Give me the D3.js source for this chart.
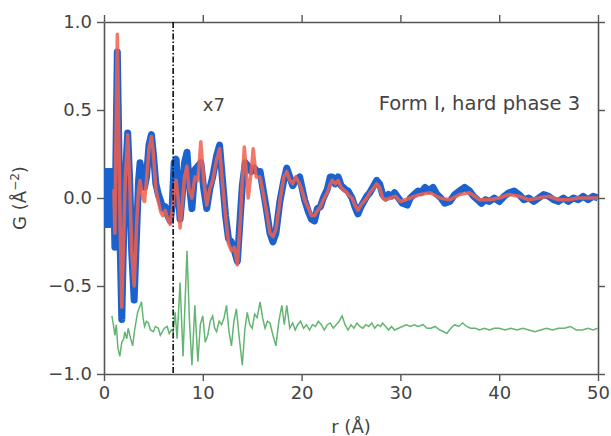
<!DOCTYPE html>
<html>
<head>
<meta charset="utf-8">
<script src="https://cdn.jsdelivr.net/npm/d3@7"></script>
<style>
	body { margin: 0; background: #fff; }
	text { font-family: "DejaVu Sans", sans-serif; fill: #444; }
</style>
</head>
<body>
<div id="chart"></div>
<script>
// observed G(r), blue
var observed = [
	[0.0,0.15],[0.1,-0.15],[0.2,0.15],[0.3,-0.15],[0.4,0.15],[0.5,-0.15],[0.6,0.15],[0.7,-0.15],[0.8,0.15],[0.9,-0.12],
	[1.0,0.05],[1.1,-0.28],[1.2,0.2],[1.35,0.83],[1.5,0.3],[1.65,-0.3],[1.8,-0.69],[1.95,-0.3],[2.15,0.1],[2.4,0.37],
	[2.6,0.1],[2.8,-0.3],[3.05,-0.58],[3.3,-0.2],[3.5,0.1],[3.65,0.2],[3.9,0.1],[4.1,0.06],[4.3,0.12],[4.55,0.3],
	[4.8,0.36],[5.0,0.25],[5.25,0.08],[5.5,0.02],[5.75,-0.02],[5.95,-0.06],[6.2,-0.05],[6.45,-0.1],[6.7,-0.13],[6.9,-0.05],
	[7.1,0.2],[7.3,0.22],[7.5,0.05],[7.7,-0.12],[7.9,0.0],[8.15,0.2],[8.4,0.26],[8.6,0.1],[8.9,-0.06],[9.2,0.16],
	[9.5,0.18],[9.8,0.2],[10.1,0.05],[10.4,-0.06],[10.7,0.05],[11.0,0.12],[11.4,0.24],[11.7,0.3],[12.0,0.1],[12.3,-0.1],
	[12.6,-0.23],[12.9,-0.25],[13.2,-0.3],[13.5,-0.36],[13.8,-0.1],[14.0,0.07],[14.3,0.2],[14.6,0.18],[14.9,0.15],[15.2,0.17],
	[15.5,0.15],[15.8,0.15],[16.1,0.05],[16.4,-0.05],[16.8,-0.2],[17.1,-0.25],[17.4,-0.2],[17.8,-0.02],[18.2,0.1],[18.5,0.17],
	[18.8,0.12],[19.1,0.07],[19.4,0.1],[19.8,0.12],[20.0,0.07],[20.3,-0.01],[20.7,-0.08],[21.0,-0.12],[21.3,-0.13],[21.6,-0.06],
	[21.9,-0.05],[22.2,0.0],[22.6,0.05],[22.9,0.12],[23.1,0.12],[23.4,0.08],[23.7,0.12],[24.0,0.07],[24.4,0.05],[24.7,0.04],
	[25.1,0.0],[25.4,-0.05],[25.7,-0.09],[26.0,-0.05],[26.3,-0.02],[26.6,0.01],[26.9,0.03],[27.2,0.06],[27.6,0.1],[27.9,0.08],
	[28.2,0.02],[28.5,0.0],[28.8,0.02],[29.1,0.01],[29.4,0.03],[29.8,0.0],[30.2,-0.03],[30.7,-0.04],[31.0,0.0],[31.4,0.02],
	[31.8,0.04],[32.1,0.03],[32.5,0.06],[32.9,0.04],[33.3,0.06],[33.7,0.02],[34.1,0.0],[34.5,-0.03],[35.0,-0.02],[35.5,0.02],
	[36.0,0.04],[36.5,0.06],[37.0,0.04],[37.4,0.01],[37.8,-0.01],[38.2,-0.03],[38.6,-0.01],[39.0,-0.02],[39.5,0.0],[40.0,-0.02],
	[40.5,0.01],[41.0,0.03],[41.5,0.04],[42.0,0.02],[42.5,-0.01],[43.0,0.0],[43.5,-0.02],[44.0,0.0],[44.5,0.02],[45.0,0.01],
	[45.5,-0.01],[46.0,-0.02],[46.5,0.0],[47.0,-0.02],[47.5,0.0],[48.0,-0.01],[48.5,0.01],[49.0,-0.01],[49.5,0.01],[50.0,0.0]
];

// fitted G(r), red
var fitted = [
	[1.0,0.05],[1.1,-0.2],[1.2,0.3],[1.35,0.93],[1.5,0.35],[1.65,-0.2],[1.8,-0.62],[1.95,-0.3],[2.15,0.1],[2.4,0.36],
	[2.6,0.1],[2.8,-0.3],[3.05,-0.5],[3.3,-0.15],[3.5,0.05],[3.65,0.1],[3.9,0.0],[4.1,-0.02],[4.3,0.1],[4.55,0.28],
	[4.8,0.35],[5.0,0.25],[5.25,0.05],[5.5,-0.02],[5.75,-0.08],[5.95,-0.1],[6.2,-0.07],[6.45,-0.12],[6.7,-0.15],[6.9,-0.08],
	[7.1,0.05],[7.3,0.1],[7.5,0.0],[7.7,-0.17],[7.9,-0.05],[8.15,0.12],[8.4,0.18],[8.6,0.05],[8.9,0.0],[9.2,0.12],
	[9.5,0.1],[9.8,0.32],[10.1,0.1],[10.4,-0.04],[10.7,0.05],[11.0,0.1],[11.4,0.22],[11.7,0.28],[12.0,0.08],[12.3,-0.1],
	[12.6,-0.26],[12.9,-0.3],[13.2,-0.28],[13.5,-0.38],[13.8,-0.12],[14.0,0.1],[14.2,0.29],[14.4,0.15],[14.6,0.0],[14.9,0.15],
	[15.1,0.28],[15.4,0.12],[15.8,0.12],[16.1,0.03],[16.4,-0.06],[16.8,-0.2],[17.1,-0.22],[17.4,-0.18],[17.8,-0.02],[18.2,0.12],
	[18.5,0.15],[18.8,0.1],[19.1,0.08],[19.4,0.12],[19.8,0.08],[20.0,0.05],[20.3,-0.01],[20.7,-0.06],[21.0,-0.1],[21.3,-0.1],
	[21.6,-0.07],[21.9,-0.05],[22.2,-0.01],[22.6,0.03],[22.9,0.08],[23.1,0.1],[23.4,0.08],[23.7,0.1],[24.0,0.06],[24.4,0.04],
	[24.7,0.02],[25.1,0.0],[25.4,-0.04],[25.7,-0.07],[26.0,-0.04],[26.3,-0.02],[26.6,0.0],[26.9,0.03],[27.2,0.05],[27.6,0.08],
	[27.9,0.06],[28.2,0.0],[28.5,-0.01],[29.0,0.0],[29.5,0.01],[30.0,-0.02],[31.0,0.0],[32.0,0.02],[33.0,0.03],[34.0,0.0],
	[35.0,-0.01],[36.0,0.02],[37.0,0.03],[38.0,-0.01],[39.0,-0.01],[40.0,0.0],[41.0,0.02],[42.0,0.01],[43.0,-0.01],[44.0,0.0],
	[45.0,0.01],[46.0,-0.01],[47.0,-0.01],[48.0,0.0],[49.0,0.0],[50.0,0.0]
];

// difference curve as drawn (offset below, x7 beyond the dashed line), green
var difference = [
	[0.8,-0.67],[0.95,-0.72],[1.1,-0.78],[1.25,-0.72],[1.4,-0.85],[1.6,-0.9],[1.8,-0.82],[2.0,-0.8],[2.1,-0.76],[2.3,-0.8],
	[2.45,-0.74],[2.7,-0.8],[2.9,-0.84],[3.1,-0.75],[3.4,-0.65],[3.6,-0.62],[3.8,-0.59],[3.95,-0.68],[4.1,-0.73],[4.3,-0.7],
	[4.5,-0.71],[4.7,-0.75],[5.0,-0.76],[5.2,-0.73],[5.5,-0.74],[5.7,-0.78],[5.9,-0.76],[6.1,-0.74],[6.4,-0.73],[6.6,-0.77],
	[6.8,-0.75],[7.0,-0.76],[7.2,-0.65],[7.4,-0.8],[7.7,-0.48],[8.0,-0.9],[8.2,-0.6],[8.4,-0.3],[8.65,-0.7],[8.9,-0.95],
	[9.2,-0.61],[9.5,-0.93],[9.75,-0.72],[10.0,-0.67],[10.25,-0.82],[10.5,-0.78],[10.75,-0.7],[11.0,-0.67],[11.2,-0.74],[11.4,-0.76],
	[11.65,-0.7],[11.9,-0.72],[12.15,-0.68],[12.4,-0.61],[12.65,-0.76],[12.9,-0.84],[13.15,-0.7],[13.4,-0.63],[13.7,-0.8],[14.0,-0.95],
	[14.25,-0.75],[14.5,-0.65],[14.75,-0.72],[15.0,-0.74],[15.25,-0.66],[15.5,-0.68],[15.8,-0.59],[16.05,-0.68],[16.3,-0.74],[16.55,-0.7],
	[16.8,-0.71],[17.1,-0.78],[17.4,-0.84],[17.7,-0.7],[18.0,-0.61],[18.25,-0.72],[18.5,-0.61],[18.8,-0.74],[19.1,-0.71],[19.35,-0.75],
	[19.6,-0.72],[19.9,-0.7],[20.2,-0.74],[20.5,-0.72],[20.8,-0.75],[21.1,-0.72],[21.4,-0.73],[21.7,-0.7],[22.0,-0.72],[22.3,-0.75],
	[22.6,-0.72],[22.9,-0.71],[23.2,-0.74],[23.5,-0.72],[23.8,-0.7],[24.1,-0.67],[24.4,-0.72],[24.7,-0.75],[25.0,-0.72],[25.3,-0.74],
	[25.6,-0.71],[25.9,-0.73],[26.2,-0.74],[26.5,-0.72],[26.8,-0.73],[27.1,-0.71],[27.4,-0.74],[27.7,-0.72],[28.0,-0.73],[28.2,-0.71],
	[28.5,-0.73],[28.8,-0.75],[29.1,-0.73],[29.4,-0.75],[29.8,-0.74],[30.2,-0.73],[30.6,-0.72],[31.0,-0.73],[31.4,-0.72],[31.8,-0.73],
	[32.3,-0.72],[32.7,-0.74],[33.1,-0.74],[33.5,-0.73],[34.0,-0.75],[34.4,-0.76],[34.7,-0.77],[35.1,-0.74],[35.5,-0.72],[35.9,-0.73],
	[36.3,-0.71],[36.7,-0.73],[37.1,-0.74],[37.6,-0.74],[38.0,-0.75],[38.5,-0.74],[39.0,-0.75],[39.5,-0.74],[40.0,-0.74],[40.6,-0.75],
	[41.2,-0.74],[41.8,-0.75],[42.4,-0.74],[43.0,-0.75],[43.6,-0.76],[44.2,-0.75],[44.8,-0.74],[45.4,-0.75],[46.0,-0.74],[46.6,-0.74],
	[47.2,-0.73],[47.8,-0.75],[48.4,-0.75],[49.0,-0.74],[49.5,-0.75],[50.0,-0.74]
];

var xTicks = [0, 10, 20, 30, 40, 50];
var yTicks = [-1.0, -0.5, 0.0, 0.5, 1.0];
var scaleCut = 7; // r where the difference curve is magnified
var scaleLabel = 'x7';
var title = 'Form I, hard phase 3';

var params = {
	width: 611,
	height: 436,
	margin: {top: 22, right: 13, bottom: 62, left: 104},
	tickLen: 7,
	axisColor: '#555'
};
params.plotW = params.width - params.margin.left - params.margin.right;
params.plotH = params.height - params.margin.top - params.margin.bottom;

var svg = d3.select('#chart').append('svg')
	.attr('width', params.width)
	.attr('height', params.height);

var g = svg.append('g')
	.attr('transform', 'translate(' + params.margin.left + ',' + params.margin.top + ')');

var x = d3.scaleLinear().domain([0, 50]).range([0, params.plotW]);
var y = d3.scaleLinear().domain([-1, 1]).range([params.plotH, 0]);

var fmt = function(d){ return d3.format('.1f')(d).replace('-', '\u2212'); };

// axes on all four sides, ticks pointing out
function styleAxis(sel){
	sel.selectAll('.domain').attr('stroke', params.axisColor).attr('stroke-width', 1.6);
	sel.selectAll('.tick line').attr('stroke', params.axisColor).attr('stroke-width', 1.4);
	sel.selectAll('.tick text').style('font-size', '18px').attr('fill', '#444');
}
g.append('g').attr('transform', 'translate(0,' + params.plotH + ')')
	.call(d3.axisBottom(x).tickValues(xTicks).tickSize(params.tickLen).tickSizeOuter(0).tickPadding(5).tickFormat(d3.format('d')))
	.call(styleAxis);
g.append('g')
	.call(d3.axisLeft(y).tickValues(yTicks).tickSize(params.tickLen).tickSizeOuter(0).tickPadding(5).tickFormat(fmt))
	.call(styleAxis);
g.append('g')
	.call(d3.axisTop(x).tickValues(xTicks).tickSize(params.tickLen).tickSizeOuter(0).tickFormat(''))
	.call(styleAxis);
g.append('g').attr('transform', 'translate(' + params.plotW + ',0)')
	.call(d3.axisRight(y).tickValues(yTicks).tickSize(params.tickLen).tickSizeOuter(0).tickFormat(''))
	.call(styleAxis);

// curves
var line = d3.line()
	.x(function(d){ return x(d[0]); })
	.y(function(d){ return y(d[1]); });

g.append('clipPath').attr('id', 'plotClip').append('rect')
	.attr('width', params.plotW).attr('height', params.plotH);

var curves = g.append('g').attr('clip-path', 'url(#plotClip)');
curves.append('path').datum(observed)
	.attr('d', line).attr('fill', 'none')
	.attr('stroke', '#1c62cf').attr('stroke-width', 7).attr('stroke-linejoin', 'round');
curves.append('path').datum(fitted)
	.attr('d', line).attr('fill', 'none')
	.attr('stroke', '#f2604e').attr('stroke-opacity', 0.85).attr('stroke-width', 3.5).attr('stroke-linejoin', 'round');
curves.append('path').datum(difference)
	.attr('d', line).attr('fill', 'none')
	.attr('stroke', '#63b571').attr('stroke-width', 1.5);

// dash-dot marker where the x7 magnification begins
g.append('line')
	.attr('x1', x(scaleCut)).attr('x2', x(scaleCut))
	.attr('y1', 0).attr('y2', params.plotH)
	.attr('stroke', '#111').attr('stroke-width', 1.6)
	.attr('stroke-dasharray', '6,2,1.5,2');

// annotations
g.append('text').attr('x', x(10)).attr('y', 89)
	.style('font-size', '18px').attr('fill', '#333').text(scaleLabel);
g.append('text').attr('x', x(27.8)).attr('y', 88)
	.style('font-size', '19.5px').attr('fill', '#333').text(title);

// axis labels
svg.append('text')
	.attr('x', params.margin.left + x(25)).attr('y', 433)
	.attr('text-anchor', 'middle').style('font-size', '18px')
	.text('r (\u00c5)');

var yl = svg.append('text')
	.attr('transform', 'translate(26,' + (params.margin.top + y(0)) + ') rotate(-90)')
	.attr('text-anchor', 'middle').style('font-size', '18px');
yl.append('tspan').text('G (\u00c5');
yl.append('tspan').attr('dy', -7).style('font-size', '12px').text('\u22122');
yl.append('tspan').attr('dy', 7).text(')');
</script>
</body>
</html>
